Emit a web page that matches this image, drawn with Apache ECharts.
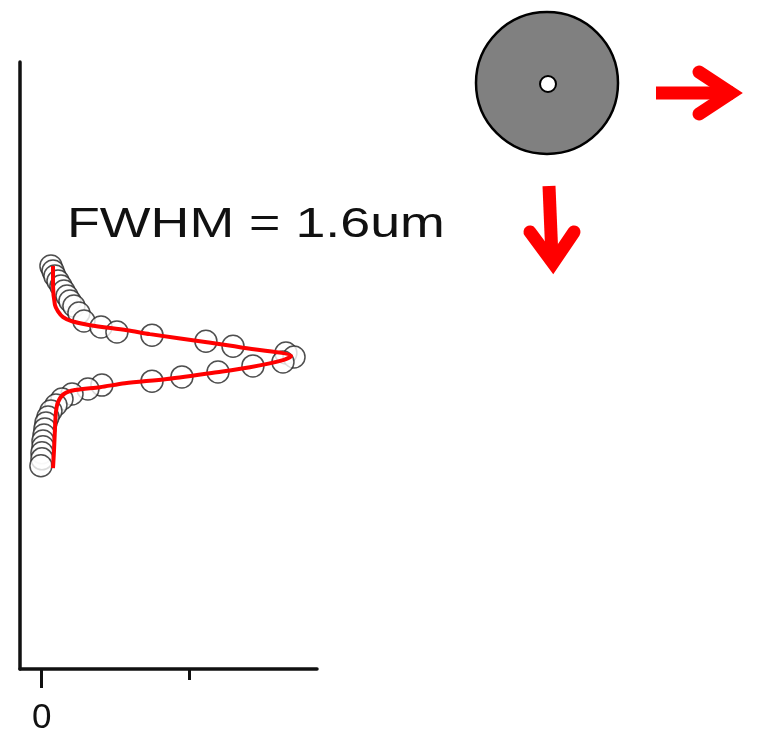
<!DOCTYPE html>
<html>
<head>
<meta charset="utf-8">
<script src="https://cdn.jsdelivr.net/npm/echarts@6/dist/echarts.min.js"></script>
<style>html,body{margin:0;padding:0;background:#fff}#c{width:760px;height:743px}</style>
</head>
<body>
<div id="c"></div>
<script>
// Measured profile: intensity (x) vs position in um (y)
var circleX = [0.063,0.077,0.090,0.111,0.131,0.151,0.172,0.192,0.219,0.253,0.287,0.403,0.511,0.749,1.115,1.299,1.658,1.713,1.638,1.434,1.197,0.952,0.749,0.409,0.314,0.206,0.138,0.097,0.063,0.043,0.029,0.022,0.016,0.009,0.009,0.002,0.002,-0.005];
var circleY = [15.34,15.15,14.96,14.77,14.58,14.39,14.20,14.01,13.82,13.55,13.25,13.02,12.83,12.71,12.48,12.29,12.03,11.88,11.69,11.54,11.31,11.12,10.96,10.81,10.66,10.47,10.28,10.05,9.82,9.59,9.37,9.14,8.91,8.68,8.46,8.23,8.00,7.74];
// Fitted curve
var fitX = [0.077,0.077,0.090,0.111,0.145,0.206,0.328,0.579,0.735,1.122,1.346,1.694,1.638,1.414,1.190,0.851,0.565,0.396,0.226,0.151,0.111,0.097,0.090,0.084,0.077];
var fitY = [15.34,14.62,13.86,13.62,13.40,13.24,13.09,12.90,12.75,12.44,12.25,11.91,11.76,11.49,11.30,11.04,10.88,10.73,10.62,10.47,10.16,9.78,9.10,8.34,7.65];
var xTickMajor = [0];
var xTickMinor = [1];
var xMin = -0.147, xMax = 1.869;
var yMin = 0, yMax = 23.11;
var annotation = 'FWHM = 1.6um';

var scatterData = circleX.map(function(v,i){return [v, circleY[i]];});
var fitData = fitX.map(function(v,i){return [v, fitY[i]];});

var chart = echarts.init(document.getElementById('c'), null, {renderer:'canvas'});
chart.setOption({
  animation:false,
  backgroundColor:'#ffffff',
  grid:{left:20,right:443,top:62,bottom:74,containLabel:false,outerBoundsMode:'none'},
  xAxis:[{
    type:'value',min:xMin,max:xMax,position:'bottom',
    axisLine:{show:true,onZero:false,lineStyle:{color:'#111',width:3.5}},
    axisTick:{show:true,customValues:xTickMinor,length:11,lineStyle:{color:'#111',width:3}},
    axisLabel:{show:false},splitLine:{show:false}
  },{
    type:'value',min:xMin,max:xMax,position:'bottom',gridIndex:0,
    axisLine:{show:false,onZero:false},
    axisTick:{show:true,customValues:xTickMajor,length:19,lineStyle:{color:'#111',width:3}},
    axisLabel:{show:true,customValues:xTickMajor,margin:32,fontSize:35,fontFamily:'Liberation Sans',color:'#111'},
    splitLine:{show:false}
  }],
  yAxis:{
    type:'value',min:yMin,max:yMax,
    axisLine:{show:true,onZero:false,lineStyle:{color:'#111',width:3.5}},
    axisTick:{show:false},axisLabel:{show:false},splitLine:{show:false}
  },
  series:[{
    type:'scatter',xAxisIndex:0,data:scatterData,symbol:'circle',symbolSize:22,z:2,
    itemStyle:{color:'#ffffff',borderColor:'#222',borderWidth:1.5}
  },{
    type:'line',xAxisIndex:0,data:fitData,symbol:'none',smooth:0.3,z:3,
    lineStyle:{color:'#ff0000',width:4}
  }],
  graphic:[
    {type:'text',x:67,y:225,scaleX:1.28,z:10,
     style:{text:annotation,x:0,y:0,align:'left',verticalAlign:'middle',font:'42px "Liberation Sans"',fill:'#111'}},
    {type:'circle',shape:{cx:547,cy:83,r:71},style:{fill:'#808080',stroke:'#000',lineWidth:2.5},z:10},
    {type:'circle',shape:{cx:548,cy:84,r:8},style:{fill:'#fff',stroke:'#000',lineWidth:2},z:11},
    {type:'line',shape:{x1:656,y1:93,x2:733,y2:93},style:{stroke:'#ff0000',lineWidth:13,lineCap:'butt'},z:10},
    {type:'polyline',shape:{points:[[699,72],[731,93],[699,114]]},style:{stroke:'#ff0000',lineWidth:13,lineCap:'round',lineJoin:'miter',miterLimit:10,fill:null},z:10},
    {type:'line',shape:{x1:549,y1:186,x2:552,y2:258},style:{stroke:'#ff0000',lineWidth:13,lineCap:'butt'},z:10},
    {type:'polyline',shape:{points:[[530,232],[553,263],[574,232]]},style:{stroke:'#ff0000',lineWidth:13,lineCap:'round',lineJoin:'miter',miterLimit:10,fill:null},z:10}
  ]
});
</script>
</body>
</html>
